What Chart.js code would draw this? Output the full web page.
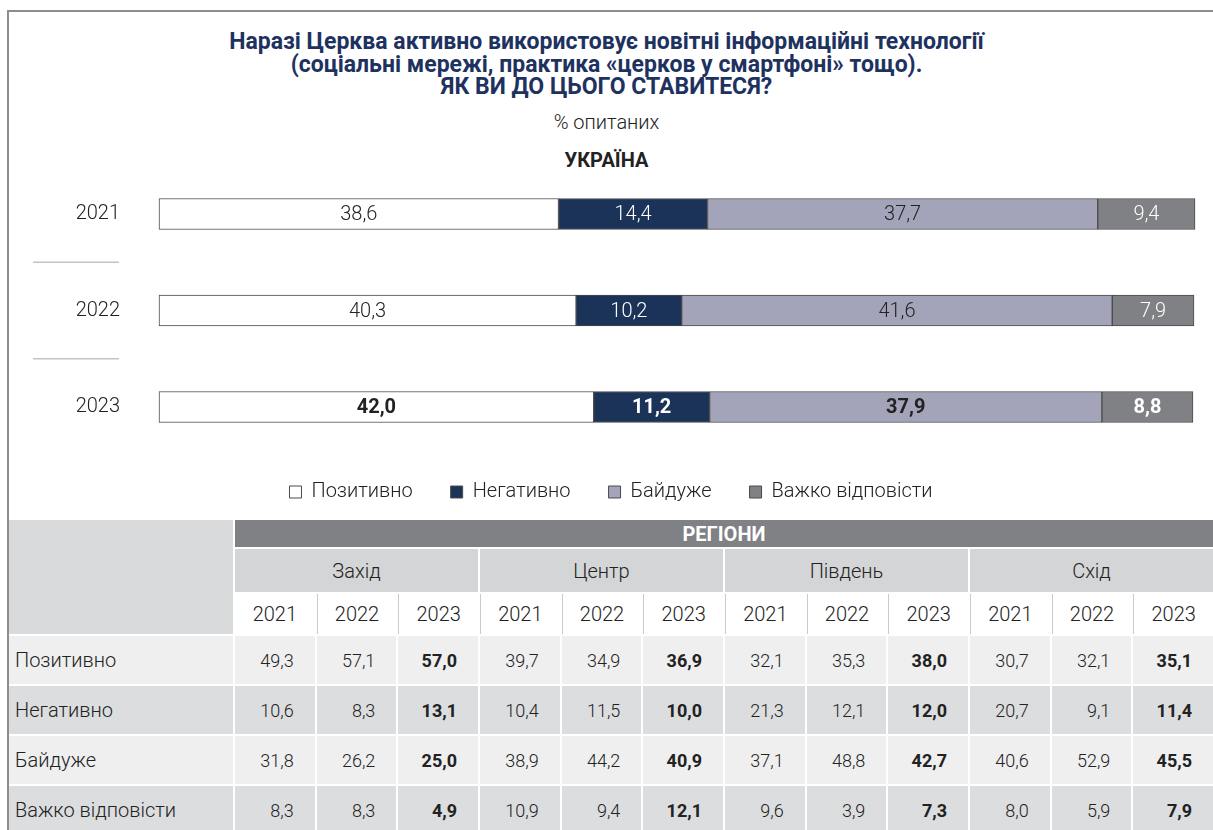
<!DOCTYPE html>
<html>
<head>
  <meta charset="utf-8">
  <title>Церква і новітні інформаційні технології</title>
  <script src="https://cdn.jsdelivr.net/npm/chart.js"></script>
  <style>
    body { margin: 0; background: #fff; font-family: Roboto, sans-serif; color: #222; }
    #page { position: relative; width: 1213px; height: 830px; overflow: hidden; }
    #frame { position: absolute; left: 7px; top: 10px; width: 1230px; height: 850px; border-left: 2px solid #8d8d8d; border-top: 2px solid #8d8d8d; }
    .head { position: absolute; left: 0; width: 1213px; text-align: center; }
    #title { top: 31px; color: #1e3260; font-weight: 700; font-size: 23px; line-height: 22.5px; }
    #unit { top: 110px; font-size: 20px; font-weight: 300; line-height: 24px; }
    #country { top: 148px; font-size: 20px; font-weight: 700; line-height: 24px; }
    #chartBox { position: absolute; left: 0; top: 160px; width: 1213px; height: 355px; }
    #regions { position: absolute; left: 9px; top: 520px; width: 1204px; display: grid;
      grid-template-columns: 224px repeat(12, 1fr);
      grid-template-rows: 27px 43px 40px repeat(4, 48px); gap: 2px; }
    #regions div { display: flex; align-items: center; justify-content: center; font-size: 19px; font-weight: 300; color: #222; }
    #regions .corner { background: #d9dadc; }
    #regions .band { background: #808184; color: #fff; font-weight: 700; font-size: 20px; }
    #regions .region { background: #d4d5d7; font-size: 20px; }
    #regions .year { background: #fff; font-size: 20px; }
    #regions .sep { border-left: 1px solid #cacaca; }
    #regions .label { justify-content: flex-start; padding-left: 6px; font-size: 20px; }
    #regions .num { justify-content: flex-end; padding-right: 21px; font-size: 18px; }
    #regions .bold { font-weight: 700; }
    #regions .row0 { background: #efeff0; }
    #regions .row1 { background: #dcdddf; }
  </style>
</head>
<body>
<div id="page">
  <div id="frame"></div>
  <div id="title" class="head">Наразі Церква активно використовує новітні інформаційні технології<br>(соціальні мережі, практика «церков у смартфоні» тощо).<br>ЯК ВИ ДО ЦЬОГО СТАВИТЕСЯ?</div>
  <div id="unit" class="head">% опитаних</div>
  <div id="country" class="head">УКРАЇНА</div>
  <div id="chartBox"><canvas id="chart"></canvas></div>
  <div id="regions"></div>
</div>
<script>
const years = ['2021', '2022', '2023'];
const answers = ['Позитивно', 'Негативно', 'Байдуже', 'Важко відповісти'];

// Україна загалом
const positive = [38.6, 40.3, 42.0];
const negative = [14.4, 10.2, 11.2];
const indifferent = [37.7, 41.6, 37.9];
const hardToSay = [9.4, 7.9, 8.8];

// регіони, по три роки на кожен (2021, 2022, 2023)
const regions = ['Захід', 'Центр', 'Південь', 'Схід'];
const regPositive = [49.3, 57.1, 57.0, 39.7, 34.9, 36.9, 32.1, 35.3, 38.0, 30.7, 32.1, 35.1];
const regNegative = [10.6, 8.3, 13.1, 10.4, 11.5, 10.0, 21.3, 12.1, 12.0, 20.7, 9.1, 11.4];
const regIndifferent = [31.8, 26.2, 25.0, 38.9, 44.2, 40.9, 37.1, 48.8, 42.7, 40.6, 52.9, 45.5];
const regHardToSay = [8.3, 8.3, 4.9, 10.9, 9.4, 12.1, 9.6, 3.9, 7.3, 8.0, 5.9, 7.9];

const series = [positive, negative, indifferent, hardToSay];
const regRows = [regPositive, regNegative, regIndifferent, regHardToSay];
const colors = ['#ffffff', '#1b3358', '#a3a4b9', '#808184'];
const labelColors = ['#222222', '#ffffff', '#222222', '#ffffff'];

const fmt = v => v.toFixed(1).replace('.', ',');

Chart.defaults.font.family = 'Roboto';

// підписи значень всередині сегментів
const valueLabels = {
  id: 'valueLabels',
  afterDatasetsDraw(chart) {
    const ctx = chart.ctx;
    ctx.save();
    ctx.textAlign = 'center';
    ctx.textBaseline = 'middle';
    chart.data.datasets.forEach((ds, i) => {
      chart.getDatasetMeta(i).data.forEach((bar, j) => {
        const p = bar.getCenterPoint();
        ctx.font = (j === years.length - 1 ? '700 ' : '300 ') + '20px Roboto';
        ctx.fillStyle = labelColors[i];
        ctx.fillText(fmt(ds.data[j]), p.x, p.y + 1);
      });
    });
    ctx.restore();
  }
};

// короткі сірі лінії між роками зліва
const rowRules = {
  id: 'rowRules',
  afterDraw(chart) {
    const {ctx, scales: {y}} = chart;
    ctx.save();
    ctx.strokeStyle = '#c4c4c4';
    ctx.lineWidth = 1.5;
    for (let i = 0; i < years.length - 1; i++) {
      const py = (y.getPixelForValue(i) + y.getPixelForValue(i + 1)) / 2;
      ctx.beginPath();
      ctx.moveTo(y.left + 5, py);
      ctx.lineTo(y.right - 40, py);
      ctx.stroke();
    }
    ctx.restore();
  }
};

new Chart(document.getElementById('chart'), {
  type: 'bar',
  data: {
    labels: years,
    datasets: answers.map((a, i) => ({
      label: a,
      data: series[i],
      backgroundColor: colors[i],
      borderColor: '#4a4a4a',
      borderWidth: 1,
      borderSkipped: false,
      barThickness: 31,
      clip: false
    }))
  },
  options: {
    indexAxis: 'y',
    responsive: true,
    maintainAspectRatio: false,
    animation: false,
    layout: { padding: { left: 28, right: 19, top: 54, bottom: 3 } },
    plugins: {
      legend: {
        position: 'bottom',
        labels: { boxWidth: 12, boxHeight: 12, padding: 38, color: '#222', font: { size: 20, weight: '300' } }
      },
      tooltip: { enabled: false }
    },
    scales: {
      x: {
        stacked: true, min: 0, max: 100,
        ticks: { display: false },
        grid: { display: false, drawTicks: false },
        border: { display: false },
        afterFit: s => { s.height = 37; }
      },
      y: {
        stacked: true, offset: false,
        grid: { display: false, drawTicks: false },
        border: { display: false },
        ticks: { padding: 39, color: '#222', font: { size: 20, weight: '300' } },
        afterFit: s => { s.width = 131; }
      }
    }
  },
  plugins: [valueLabels, rowRules]
});

// таблиця по регіонах
const grid = document.getElementById('regions');
function add(text, cls, style) {
  const d = document.createElement('div');
  d.textContent = text;
  d.className = cls;
  if (style) Object.assign(d.style, style);
  grid.appendChild(d);
}
add('', 'corner', { gridRow: '1 / 4', gridColumn: '1' });
add('РЕГІОНИ', 'band', { gridColumn: '2 / 14' });
regions.forEach(r => add(r, 'region', { gridColumn: 'span 3' }));
regions.forEach((r, ri) => years.forEach((y, k) => add(y, 'year' + (ri + k > 0 ? ' sep' : ''))));
answers.forEach((a, r) => {
  add(a, 'label row' + (r % 2));
  regRows[r].forEach((v, c) => add(fmt(v), 'num row' + (r % 2) + (c % 3 === 2 ? ' bold' : '')));
});
</script>
</body>
</html>
